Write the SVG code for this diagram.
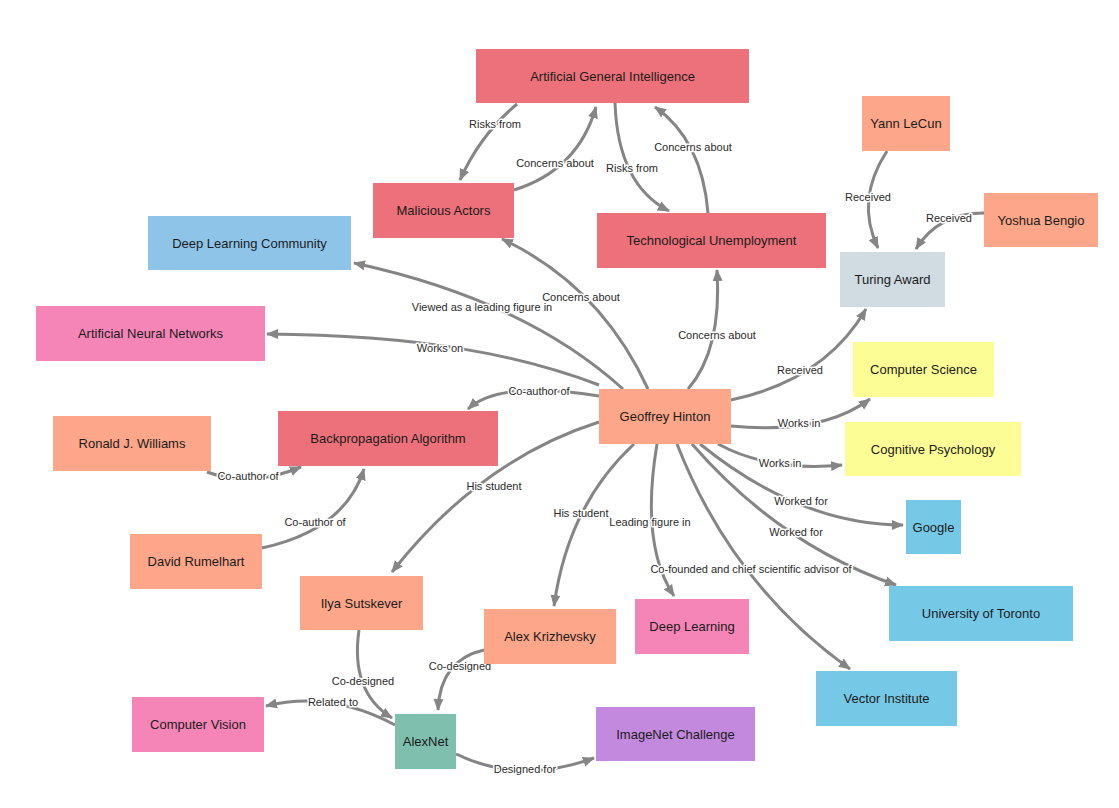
<svg xmlns="http://www.w3.org/2000/svg" width="1119" height="808" viewBox="0 0 1119 808">
<style>
.n text{font-family:"Liberation Sans",Arial,sans-serif;font-size:13px;fill:#1b1b1b;text-anchor:middle;dominant-baseline:central}
.e path{fill:none;stroke:#858585;stroke-width:3;marker-end:url(#ah)}
.l text{font-family:"Liberation Sans",Arial,sans-serif;font-size:11px;fill:#2a2a2a;text-anchor:middle;dominant-baseline:central;stroke:#fff;stroke-width:3;paint-order:stroke;stroke-linejoin:round}
.red{fill:#ec717a}.sal{fill:#fda68a}.pink{fill:#f585b7}.dlc{fill:#8fc4e9}.cyan{fill:#75c9e7}.yel{fill:#fdfd95}.tur{fill:#d0dbe2}.pur{fill:#c389de}.grn{fill:#7fbfad}
</style>
<defs>
<marker id="ah" markerUnits="userSpaceOnUse" markerWidth="12" markerHeight="12" viewBox="0 0 12 12" refX="11" refY="6" orient="auto">
<path d="M0,1 L12,6 L0,11 Z" fill="#858585"/>
</marker>
</defs>
<g id="connectors" class="e">
<path d="M517,104 Q480,135 460,180"/>
<path d="M514,190 Q578,170 596,107"/>
<path d="M615,103 Q618,185 669,211"/>
<path d="M708,213 Q702,140 655,107"/>
<path d="M887,151 Q855,200 878,248"/>
<path d="M984,213 Q938,213 916,249"/>
<path d="M731,400 Q825,380 866,309"/>
<path d="M688,389 Q722,350 717,270"/>
<path d="M648,389 Q600,285 502,239"/>
<path d="M623,389 Q525,300 354,263"/>
<path d="M599,385 C520,355 420,335 267,334"/>
<path d="M599,396 Q500,380 468,409"/>
<path d="M207,472 Q250,488 301,467"/>
<path d="M262,548 Q345,530 364,469"/>
<path d="M599,422 Q480,460 392,572"/>
<path d="M634,444 Q568,505 554,606"/>
<path d="M657,444 Q640,545 674,596"/>
<path d="M677,444 Q732,585 850,669"/>
<path d="M692,444 Q780,545 896,585"/>
<path d="M700,444 Q800,525 903,525"/>
<path d="M718,444 Q770,472 842,465"/>
<path d="M731,426 Q822,435 870,399"/>
<path d="M359,630 Q350,692 392,718"/>
<path d="M484,650 Q440,660 438,710"/>
<path d="M395,725 Q330,690 266,706"/>
<path d="M456,754 Q520,785 594,758"/>
</g>
<g id="edge-labels" class="l">
<text x="495" y="124">Risks from</text>
<text x="555" y="163">Concerns about</text>
<text x="632" y="168">Risks from</text>
<text x="693" y="147">Concerns about</text>
<text x="868" y="197">Received</text>
<text x="949" y="218">Received</text>
<text x="800" y="370">Received</text>
<text x="717" y="335">Concerns about</text>
<text x="581" y="297">Concerns about</text>
<text x="482" y="307">Viewed as a leading figure in</text>
<text x="440" y="348">Works on</text>
<text x="539" y="391">Co-author of</text>
<text x="248" y="476">Co-author of</text>
<text x="315" y="522">Co-author of</text>
<text x="494" y="486">His student</text>
<text x="581" y="513">His student</text>
<text x="650" y="522">Leading figure in</text>
<text x="751" y="569">Co-founded and chief scientific advisor of</text>
<text x="796" y="532">Worked for</text>
<text x="801" y="501">Worked for</text>
<text x="780" y="463">Works in</text>
<text x="799" y="423">Works in</text>
<text x="363" y="681">Co-designed</text>
<text x="460" y="666">Co-designed</text>
<text x="333" y="702">Related to</text>
<text x="525" y="769">Designed for</text>
</g>
<g id="agi" class="n"><rect class="red" x="476" y="49" width="273" height="54"/><text x="612.5" y="76">Artificial General Intelligence</text></g>
<g id="malicious" class="n"><rect class="red" x="373" y="183" width="141" height="55"/><text x="443.5" y="210.5">Malicious Actors</text></g>
<g id="techunemp" class="n"><rect class="red" x="597" y="213" width="229" height="55"/><text x="711.5" y="240.5">Technological Unemployment</text></g>
<g id="lecun" class="n"><rect class="sal" x="862" y="96" width="88" height="55"/><text x="906" y="123.5">Yann LeCun</text></g>
<g id="bengio" class="n"><rect class="sal" x="984" y="193" width="114" height="54"/><text x="1041" y="220">Yoshua Bengio</text></g>
<g id="turing" class="n"><rect class="tur" x="840" y="252" width="105" height="55"/><text x="892.5" y="279.5">Turing Award</text></g>
<g id="dlc" class="n"><rect class="dlc" x="148" y="216" width="203" height="54"/><text x="249.5" y="243">Deep Learning Community</text></g>
<g id="ann" class="n"><rect class="pink" x="36" y="306" width="229" height="55"/><text x="150.5" y="333.5">Artificial Neural Networks</text></g>
<g id="williams" class="n"><rect class="sal" x="53" y="416" width="158" height="55"/><text x="132" y="443.5">Ronald J. Williams</text></g>
<g id="backprop" class="n"><rect class="red" x="278" y="411" width="220" height="55"/><text x="388" y="438.5">Backpropagation Algorithm</text></g>
<g id="hinton" class="n"><rect class="sal" x="599" y="389" width="132" height="55"/><text x="665" y="416.5">Geoffrey Hinton</text></g>
<g id="cs" class="n"><rect class="yel" x="853" y="342" width="141" height="55"/><text x="923.5" y="369.5">Computer Science</text></g>
<g id="cogpsy" class="n"><rect class="yel" x="845" y="422" width="176" height="54"/><text x="933" y="449">Cognitive Psychology</text></g>
<g id="google" class="n"><rect class="cyan" x="906" y="500" width="55" height="54"/><text x="933.5" y="527">Google</text></g>
<g id="uoft" class="n"><rect class="cyan" x="889" y="586" width="184" height="55"/><text x="981" y="613.5">University of Toronto</text></g>
<g id="rumelhart" class="n"><rect class="sal" x="130" y="534" width="132" height="55"/><text x="196" y="561.5">David Rumelhart</text></g>
<g id="ilya" class="n"><rect class="sal" x="300" y="576" width="123" height="54"/><text x="361.5" y="603">Ilya Sutskever</text></g>
<g id="alexk" class="n"><rect class="sal" x="484" y="609" width="132" height="55"/><text x="550" y="636.5">Alex Krizhevsky</text></g>
<g id="dl" class="n"><rect class="pink" x="635" y="599" width="114" height="55"/><text x="692" y="626.5">Deep Learning</text></g>
<g id="vector" class="n"><rect class="cyan" x="816" y="671" width="141" height="55"/><text x="886.5" y="698.5">Vector Institute</text></g>
<g id="cv" class="n"><rect class="pink" x="132" y="697" width="132" height="55"/><text x="198" y="724.5">Computer Vision</text></g>
<g id="alexnet" class="n"><rect class="grn" x="395" y="714" width="61" height="55"/><text x="425.5" y="741.5">AlexNet</text></g>
<g id="imagenet" class="n"><rect class="pur" x="596" y="707" width="159" height="54"/><text x="675.5" y="734">ImageNet Challenge</text></g>
</svg>
